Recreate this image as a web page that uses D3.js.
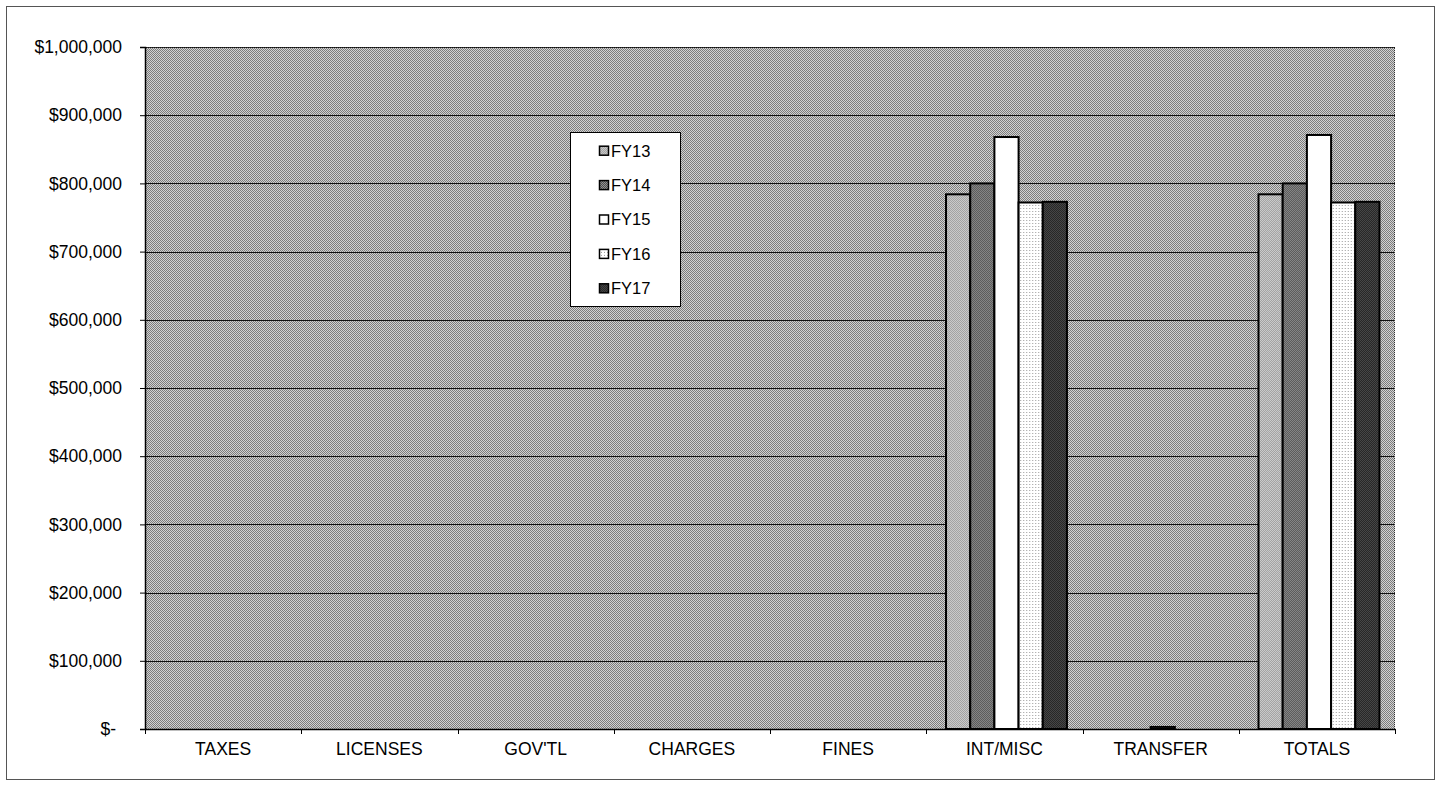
<!DOCTYPE html>
<html>
<head>
<meta charset="utf-8">
<script src="https://cdn.jsdelivr.net/npm/d3@7/dist/d3.min.js"></script>
<style>
  html, body { margin: 0; padding: 0; background: #fff; }
  svg { display: block; font-family: "Liberation Sans", Arial, sans-serif; }
</style>
</head>
<body>
<svg id="chart" width="1441" height="786"></svg>
<script>
// Revenue by source, fiscal years 13-17
const categories = ["TAXES", "LICENSES", "GOV'TL", "CHARGES", "FINES", "INT/MISC", "TRANSFER", "TOTALS"];
const seriesNames = ["FY13", "FY14", "FY15", "FY16", "FY17"];
const fy13 = [0, 0, 0, 0, 0, 784000, 0, 784000];
const fy14 = [0, 0, 0, 0, 0, 800000, 0, 800000];
const fy15 = [0, 0, 0, 0, 0, 868000, 3000, 871000];
const fy16 = [0, 0, 0, 0, 0, 772000, 0, 772000];
const fy17 = [0, 0, 0, 0, 0, 773000, 0, 773000];
const yTickValues = [0, 100000, 200000, 300000, 400000, 500000, 600000, 700000, 800000, 900000, 1000000];

const seriesValues = [fy13, fy14, fy15, fy16, fy17];

const svg = d3.select("#chart");
const plot = { left: 145, right: 1395, top: 47, bottom: 729 };

// Dithered fills, built pixel by pixel
const defs = svg.append("defs");
function checker(id, a, b) {
  const p = defs.append("pattern").attr("id", id)
    .attr("patternUnits", "userSpaceOnUse").attr("width", 2).attr("height", 2);
  p.append("rect").attr("width", 2).attr("height", 2).attr("fill", a);
  p.append("rect").attr("x", 0).attr("y", 0).attr("width", 1).attr("height", 1).attr("fill", b);
  p.append("rect").attr("x", 1).attr("y", 1).attr("width", 1).attr("height", 1).attr("fill", b);
}
checker("bgFill", "#d2d2d2", "#7c7c7c");
checker("fill0", "#dedede", "#8e8e8e");
checker("fill1", "#9a9a9a", "#474747");
(function () {
  const p = defs.append("pattern").attr("id", "fill3")
    .attr("patternUnits", "userSpaceOnUse").attr("width", 3).attr("height", 3);
  p.append("rect").attr("width", 3).attr("height", 3).attr("fill", "#ffffff");
  p.append("rect").attr("x", 1).attr("y", 1).attr("width", 1).attr("height", 1).attr("fill", "#9a9a9a");
})();
checker("fill4", "#555555", "#181818");
const fills = ["url(#fill0)", "url(#fill1)", "#ffffff", "url(#fill3)", "url(#fill4)"];

// Chart frame
svg.append("rect").attr("x", 6.5).attr("y", 6.5).attr("width", 1428).attr("height", 773)
  .attr("fill", "#fff").attr("stroke", "#555").attr("stroke-width", 1);

// Scales
const x0 = d3.scaleBand().domain(categories).range([plot.left, plot.right]).padding(0);
const x1 = d3.scaleBand().domain(seriesNames).range([0, x0.bandwidth()])
  .paddingInner(0).paddingOuter(0.73).align(0.56);
const y = d3.scaleLinear().domain([0, 1000000]).range([plot.bottom, plot.top]);

// Plot area background
svg.append("rect").attr("x", plot.left).attr("y", plot.top)
  .attr("width", plot.right - plot.left).attr("height", plot.bottom - plot.top)
  .attr("fill", "url(#bgFill)");

// Gridlines
svg.append("g").selectAll("line").data(yTickValues.filter(v => v > 0)).join("line")
  .attr("x1", plot.left).attr("x2", plot.right)
  .attr("y1", d => Math.round(y(d)) + 0.5).attr("y2", d => Math.round(y(d)) + 0.5)
  .attr("stroke", "#111").attr("stroke-width", 1);

// Plot border (top and right, dotted)
svg.append("path")
  .attr("d", `M${plot.left},${plot.top + 0.5}H${plot.right - 0.5}V${plot.bottom}`)
  .attr("fill", "none").attr("stroke", "#333").attr("stroke-width", 1)
  .attr("stroke-dasharray", "1,1");

// Bars
const rows = categories.map((c, i) => ({ cat: c, vals: seriesNames.map((s, j) => ({ s, j, v: seriesValues[j][i] })) }));
const groups = svg.append("g").selectAll("g").data(rows).join("g")
  .attr("transform", d => `translate(${x0(d.cat)},0)`);
groups.selectAll("rect").data(d => d.vals).join("rect")
  .attr("x", d => x1(d.s))
  .attr("y", d => y(d.v))
  .attr("width", x1.bandwidth())
  .attr("height", d => y(0) - y(d.v))
  .attr("fill", d => fills[d.j])
  .attr("stroke", d => d.v > 0 ? "#000" : "none")
  .attr("stroke-width", 2);

// Y axis
const yAxis = svg.append("g").attr("transform", `translate(${plot.left},0)`)
  .call(d3.axisLeft(y).tickValues(yTickValues).tickSize(5).tickPadding(18)
    .tickFormat(d => d === 0 ? "$-" : "$" + d3.format(",")(d)));
yAxis.select(".domain").attr("stroke", "#000").attr("stroke-width", 1.5);
yAxis.selectAll(".tick line").attr("stroke", "#000");
yAxis.selectAll(".tick text").attr("font-size", "17.5px").attr("fill", "#000")
  .attr("dx", d => d === 0 ? -6 : 0);

// X axis: labels centred in each category, ticks on category boundaries
const xAxis = svg.append("g").attr("transform", `translate(0,${plot.bottom})`)
  .call(d3.axisBottom(x0).tickSize(0).tickPadding(14));
xAxis.select(".domain").attr("stroke", "#000").attr("stroke-width", 1.5);
xAxis.selectAll(".tick text").attr("font-size", "17.5px").attr("fill", "#000");
const bounds = categories.map(c => x0(c)).concat([plot.right]);
xAxis.append("g").selectAll("line").data(bounds).join("line")
  .attr("x1", d => Math.round(d) + 0.5).attr("x2", d => Math.round(d) + 0.5)
  .attr("y1", 0).attr("y2", 5).attr("stroke", "#000");

// Legend
const legend = svg.append("g");
legend.append("rect").attr("x", 570.5).attr("y", 132.5).attr("width", 110).attr("height", 174)
  .attr("fill", "#fff").attr("stroke", "#000").attr("stroke-width", 1);
const li = legend.selectAll("g.item").data(seriesNames).join("g").attr("class", "item")
  .attr("transform", (d, i) => `translate(0,${150.7 + i * 34.4})`);
li.append("rect").attr("x", 599.5).attr("y", -4.5).attr("width", 9).attr("height", 9)
  .attr("fill", (d, i) => fills[i]).attr("stroke", "#000").attr("stroke-width", 1.5);
li.append("text").attr("x", 611).attr("dy", "0.36em").attr("font-size", "16.5px")
  .attr("fill", "#000").text(d => d);
</script>
</body>
</html>
